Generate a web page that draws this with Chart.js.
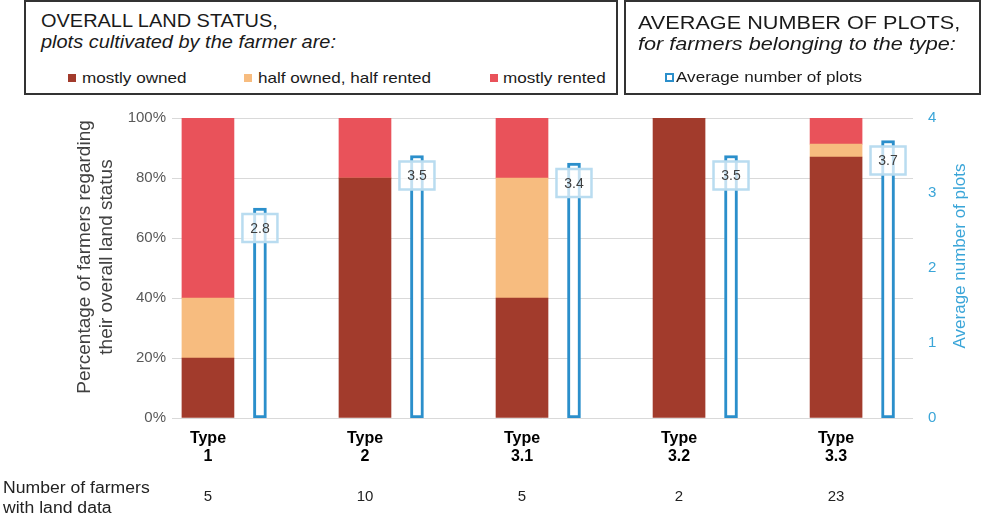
<!DOCTYPE html>
<html>
<head>
<meta charset="utf-8">
<script src="https://cdn.jsdelivr.net/npm/chart.js@4.4.1/dist/chart.umd.min.js"></script>
<style>
  html, body { margin: 0; padding: 0; background: #fff; }
  body { width: 982px; height: 517px; position: relative; overflow: hidden;
         font-family: "Liberation Sans", Arial, sans-serif; color: #1a1a1a; }
  #chartWrap { position: absolute; left: 0; top: 0; width: 982px; height: 517px; }
  .box { position: absolute; border: 2px solid #333; box-sizing: border-box; background: #fff; }
  .t { position: absolute; white-space: nowrap; line-height: 1; transform: scaleX(1.14); transform-origin: 0 0; }
  .mk { position: absolute; width: 8px; height: 8px; }
</style>
</head>
<body>
<div id="chartWrap"><canvas id="landChart" width="982" height="517"></canvas></div>

<!-- header boxes -->
<div class="box" style="left:24px; top:0; width:594px; height:95px;"></div>
<div class="t" style="left:41px; top:13.2px; font-size:17.5px;">OVERALL LAND STATUS,</div>
<div class="t" style="left:41px; top:34.2px; font-size:17.5px; font-style:italic;">plots cultivated by the farmer are:</div>
<div class="mk" style="left:68px; top:74px; background:#a23b2c;"></div>
<div class="t" style="left:82px; top:70.3px; font-size:15px;">mostly owned</div>
<div class="mk" style="left:244px; top:74px; background:#f7bc7f;"></div>
<div class="t" style="left:258px; top:70.3px; font-size:15px;">half owned, half rented</div>
<div class="mk" style="left:490px; top:74px; background:#e9525a;"></div>
<div class="t" style="left:503px; top:70.3px; font-size:15px;">mostly rented</div>

<div class="box" style="left:624px; top:0; width:357px; height:95px;"></div>
<div class="t" style="left:638px; top:13.1px; font-size:19px;">AVERAGE NUMBER OF PLOTS,</div>
<div class="t" style="left:638px; top:34.1px; font-size:19px; font-style:italic;">for farmers belonging to the type:</div>
<div class="mk" style="left:665px; top:73px; width:9px; height:9px; box-sizing:border-box; border:2px solid #2b8fcb;"></div>
<div class="t" style="left:676px; top:69.3px; font-size:15px;">Average number of plots</div>

<div class="t" style="left:3px; top:479.5px; font-size:16px; transform:scaleX(1.1); color:#222;">Number of farmers</div>
<div class="t" style="left:3px; top:499.5px; font-size:16px; transform:scaleX(1.1); color:#222;">with land data</div>

<script>
// Data
const categories = ['1', '2', '3.1', '3.2', '3.3'];
const mostlyOwned = [20, 80, 40, 100, 87];
const halfOwned = [20, 0, 40, 0, 4.3];
const mostlyRented = [60, 20, 20, 0, 8.7];
const avgPlots = [2.8, 3.5, 3.4, 3.5, 3.7];
const farmerCounts = [5, 10, 5, 2, 23];
const pctTicks = [0, 20, 40, 60, 80, 100];
const plotTicks = [0, 1, 2, 3, 4];

const plotOffset = 0.331;   // blue bar sits to the right of the stacked bar
const fontFamily = '"Liberation Sans", Arial, sans-serif';

const toPoints = (arr, shift = 0) => arr.map((v, i) => ({ x: i + shift, y: v }));

// Value boxes, farmer counts and axis titles
const extras = {
    id: 'extras',
    afterDatasetsDraw(chart) {
        const ctx = chart.ctx;
        const meta = chart.getDatasetMeta(3);
        ctx.save();
        meta.data.forEach((bar, i) => {
            const cx = bar.x;
            const cy = bar.y + 20;
            ctx.fillStyle = 'rgba(255,255,255,0.72)';
            ctx.fillRect(cx - 17.5, cy - 14, 35, 28);
            ctx.strokeStyle = '#b9dcf0';
            ctx.lineWidth = 2.5;
            ctx.strokeRect(cx - 17.5, cy - 14, 35, 28);
            ctx.fillStyle = '#404040';
            ctx.font = '14px ' + fontFamily;
            ctx.textAlign = 'center';
            ctx.textBaseline = 'middle';
            ctx.fillText(avgPlots[i].toFixed(1), cx, cy + 1);
        });

        const xs = chart.scales.x;
        ctx.fillStyle = '#222';
        ctx.font = '15px ' + fontFamily;
        ctx.textAlign = 'center';
        ctx.textBaseline = 'alphabetic';
        farmerCounts.forEach((n, i) => {
            ctx.fillText(String(n), xs.getPixelForValue(i), 501);
        });

        // left axis title
        ctx.fillStyle = '#404040';
        ctx.font = '19px ' + fontFamily;
        ctx.textBaseline = 'middle';
        [['Percentage of farmers regarding', 85], ['their overall land status', 107]].forEach(([txt, x]) => {
            ctx.save();
            ctx.translate(x, 257);
            ctx.rotate(-Math.PI / 2);
            ctx.fillText(txt, 0, 0);
            ctx.restore();
        });

        // right axis title
        ctx.fillStyle = '#3aa5d8';
        ctx.font = '17px ' + fontFamily;
        ctx.save();
        ctx.translate(960, 256);
        ctx.rotate(-Math.PI / 2);
        ctx.fillText('Average number of plots', 0, 0);
        ctx.restore();
        ctx.restore();
    }
};

const ctx = document.getElementById('landChart').getContext('2d');
new Chart(ctx, {
    type: 'bar',
    data: {
        datasets: [
            { label: 'mostly owned', data: toPoints(mostlyOwned), backgroundColor: '#a23b2c', yAxisID: 'y', barThickness: 52, grouped: false },
            { label: 'half owned, half rented', data: toPoints(halfOwned), backgroundColor: '#f7bc7f', yAxisID: 'y', barThickness: 52, grouped: false },
            { label: 'mostly rented', data: toPoints(mostlyRented), backgroundColor: '#e9525a', yAxisID: 'y', barThickness: 52, grouped: false },
            {
                label: 'Average number of plots', data: toPoints(avgPlots, plotOffset), yAxisID: 'y1',
                backgroundColor: '#ffffff', borderColor: '#2b8fcb', borderWidth: 3, borderSkipped: false,
                barThickness: 13, grouped: false
            }
        ]
    },
    options: {
        responsive: false,
        animation: false,
        layout: { padding: { top: 118, bottom: 0, left: 0, right: 0 } },
        plugins: {
            legend: { display: false },
            tooltip: { enabled: false }
        },
        scales: {
            x: {
                type: 'linear',
                offset: false,
                min: -0.229,
                max: 4.49,
                grid: { display: false },
                border: { display: false },
                afterBuildTicks: (scale) => { scale.ticks = categories.map((c, i) => ({ value: i })); },
                afterFit: (scale) => { scale.height = 99; },
                ticks: {
                    autoSkip: false,
                    maxRotation: 0,
                    padding: 4,
                    color: '#000',
                    font: { family: fontFamily, size: 16, weight: 'bold', lineHeight: 1.125 },
                    callback: (v) => ['Type', categories[v]]
                }
            },
            y: {
                position: 'left',
                stacked: true,
                min: 0,
                max: 100,
                afterBuildTicks: (scale) => { scale.ticks = pctTicks.map(v => ({ value: v })); },
                afterFit: (scale) => { scale.width = 172; },
                grid: { color: '#d9d9d9', drawTicks: false },
                border: { display: false },
                ticks: {
                    padding: 6,
                    color: '#595959',
                    font: { family: fontFamily, size: 15 },
                    callback: (v) => v + '%'
                }
            },
            y1: {
                position: 'right',
                min: 0,
                max: 4,
                afterBuildTicks: (scale) => { scale.ticks = plotTicks.map(v => ({ value: v })); },
                afterFit: (scale) => { scale.width = 69; },
                grid: { display: false },
                border: { display: false },
                ticks: {
                    padding: 7,
                    color: '#3aa5d8',
                    font: { family: fontFamily, size: 15 }
                }
            }
        }
    },
    plugins: [extras]
});
</script>
</body>
</html>
